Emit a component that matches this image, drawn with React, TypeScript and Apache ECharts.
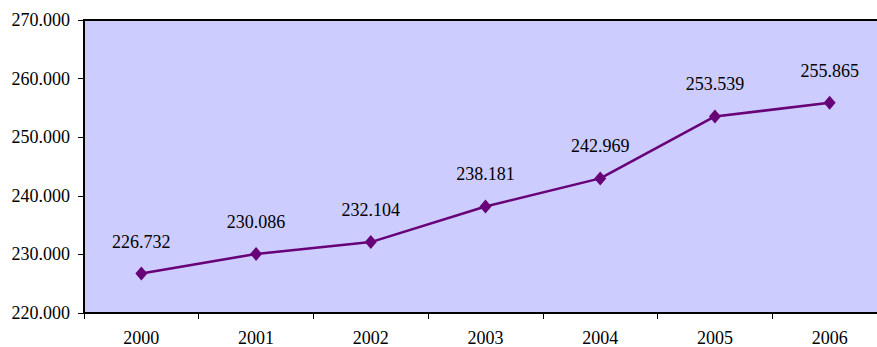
import React, { useEffect, useRef } from "react";
import * as echarts from "echarts";

const years = ["2000", "2001", "2002", "2003", "2004", "2005", "2006"];
const values = [226.732, 230.086, 232.104, 238.181, 242.969, 253.539, 255.865];
const yMin = 220;
const yMax = 270;
const yStep = 10;

const fmt = (v: number) => v.toFixed(3);

export default function App() {
  const ref = useRef<HTMLDivElement>(null);
  useEffect(() => {
    document.body.style.margin = "0";
    const chart = echarts.init(ref.current!, null, { renderer: "svg" });
    const font = "Liberation Serif";
    chart.setOption({
      animation: false,
      textStyle: { fontFamily: font },
      grid: {
        left: 84,
        right: 0,
        top: 20,
        bottom: 34,
        show: true,
        backgroundColor: "#CCCCFF",
        borderColor: "#000",
        borderWidth: 2,
      },
      xAxis: {
        type: "category",
        data: years,
        boundaryGap: true,
        axisLine: { lineStyle: { color: "#000", width: 2 } },
        axisTick: { show: true, length: 6, lineStyle: { color: "#000", width: 1 } },
        axisLabel: { color: "#000", fontSize: 18, fontFamily: font, margin: 16 },
      },
      yAxis: {
        type: "value",
        min: yMin,
        max: yMax,
        interval: yStep,
        splitLine: { show: false },
        axisLine: { show: true, lineStyle: { color: "#000", width: 2 } },
        axisTick: { show: true, length: 6, lineStyle: { color: "#000", width: 1 } },
        axisLabel: {
          color: "#000",
          fontSize: 18,
          fontFamily: font,
          margin: 14,
          formatter: (v: number) => fmt(v),
        },
      },
      series: [
        {
          type: "line",
          data: values,
          symbol: "diamond",
          symbolSize: [12, 14],
          lineStyle: { color: "#680078", width: 2.5 },
          itemStyle: { color: "#680078" },
          label: {
            show: true,
            position: "top",
            distance: 16,
            color: "#000",
            fontSize: 18,
            fontFamily: font,
            formatter: (p: any) => fmt(p.value),
          },
        },
      ],
    });
    return () => chart.dispose();
  }, []);
  return (
    <div style={{ width: 877, height: 347, overflow: "hidden", position: "relative" }}>
      <div ref={ref} style={{ width: 887, height: 347 }} />
    </div>
  );
}
